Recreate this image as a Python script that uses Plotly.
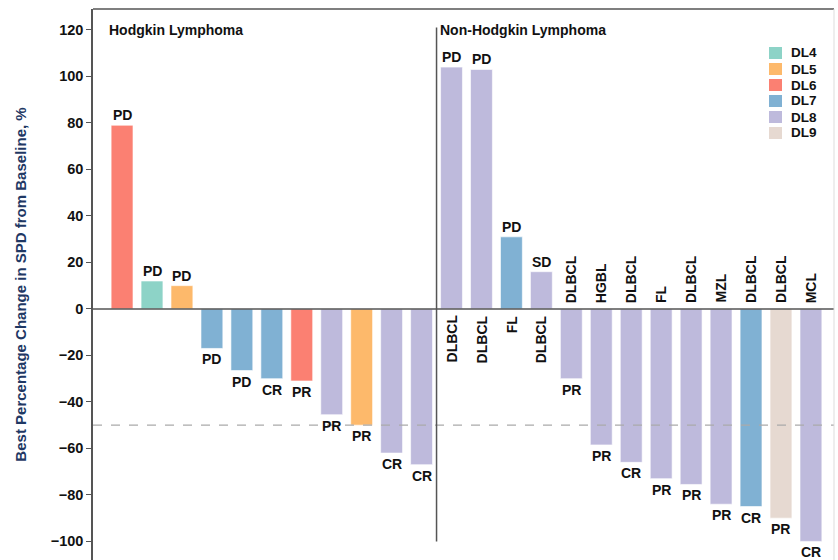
import plotly.graph_objects as go

# ---- data ----
dose_levels = ["DL4", "DL5", "DL6", "DL7", "DL8", "DL9"]
dl_colors = ["#8dd3c7", "#fdb96b", "#fb8072", "#80b1d3", "#bebadc", "#e6d9d1"]

patient_dl = ["DL6", "DL4", "DL5", "DL7", "DL7", "DL7", "DL6", "DL8", "DL5", "DL8", "DL8",
              "DL8", "DL8", "DL7", "DL8", "DL8", "DL8", "DL8", "DL8", "DL8", "DL8", "DL7", "DL9", "DL8"]
pct_change = [79, 12, 10, -17, -26.5, -30, -31, -45.5, -50, -62, -67,
              104, 103, 31, 16, -30, -58.5, -66, -73, -75.5, -84, -85, -90, -100]
response = ["PD", "PD", "PD", "PD", "PD", "CR", "PR", "PR", "PR", "CR", "CR",
            "PD", "PD", "PD", "SD", "PR", "PR", "CR", "PR", "PR", "PR", "CR", "PR", "CR"]
histology = [""] * 11 + ["DLBCL", "DLBCL", "FL", "DLBCL", "DLBCL", "HGBL", "DLBCL", "FL",
                         "DLBCL", "MZL", "DLBCL", "DLBCL", "MCL"]
group_labels = ["Hodgkin Lymphoma", "Non-Hodgkin Lymphoma"]
n_hodgkin = 11
y_ticks = [-100, -80, -60, -40, -20, 0, 20, 40, 60, 80, 100, 120]

FONT = "Liberation Sans, Arial, sans-serif"
W, H = 838, 560
ML, MR, MT, MB = 93, 4, 9, 0
positions = list(range(len(pct_change)))

fig = go.Figure()
for dl, col in zip(dose_levels, dl_colors):
    xs = [p for p, d in zip(positions, patient_dl) if d == dl]
    ys = [v for v, d in zip(pct_change, patient_dl) if d == dl]
    fig.add_trace(go.Bar(x=xs, y=ys, name=dl, width=0.73, showlegend=False,
                         marker=dict(color=col, line=dict(color="rgba(255,255,255,0.6)", width=1))))

lab_font = dict(family=FONT, size=14, color="#111", weight="bold")
annotations = []
for p, v, r, h in zip(positions, pct_change, response, histology):
    annotations.append(dict(x=p, y=v, text=r, showarrow=False,
                            xref="x", yref="y",
                            yanchor="bottom" if v >= 0 else "top",
                            yshift=0 if v >= 0 else -1,
                            font=lab_font))
    if h:
        annotations.append(dict(x=p, y=0, text=h, showarrow=False, textangle=-90,
                                xref="x", yref="y",
                                yanchor="top" if v >= 0 else "bottom",
                                yshift=-4 if v >= 0 else 4,
                                font=lab_font))

grp_font = dict(family=FONT, size=14, color="#111", weight="bold")
annotations.append(dict(x=-0.5, y=120, text=group_labels[0], showarrow=False,
                        xanchor="left", yanchor="middle", xref="x", yref="y", font=grp_font))
annotations.append(dict(x=n_hodgkin - 0.45, y=120, text=group_labels[1], showarrow=False,
                        xanchor="left", yanchor="middle", xref="x", yref="y", font=grp_font))

shapes = [
    dict(type="line", xref="paper", yref="y", x0=0, x1=1, y0=0, y1=0,
         line=dict(color="#555", width=1.5)),
    dict(type="line", xref="paper", yref="y", x0=0, x1=1, y0=-50, y1=-50,
         line=dict(color="#aaa", width=1.3, dash="dash")),
    dict(type="line", xref="x", yref="y", x0=n_hodgkin - 0.5, x1=n_hodgkin - 0.5, y0=-100, y1=121,
         line=dict(color="#555", width=1.5)),
    dict(type="line", xref="paper", yref="paper", x0=0, x1=1, y0=1, y1=1,
         line=dict(color="#555", width=1.5)),
    dict(type="line", xref="paper", yref="paper", x0=1, x1=1, y0=0, y1=1,
         line=dict(color="#ddd", width=1)),
]

# manual legend (compact spacing like the reference)
pw = W - ML - MR
ph = H - MT - MB
def px_x(px):
    return (px - ML) / pw
def px_y(py):
    return (H - MB - py) / ph
for i, (dl, col) in enumerate(zip(dose_levels, dl_colors)):
    cy = 53 + 16 * i
    shapes.append(dict(type="rect", xref="paper", yref="paper",
                       x0=px_x(769), x1=px_x(782), y0=px_y(cy + 6), y1=px_y(cy - 6),
                       fillcolor=col, line=dict(width=0)))
    annotations.append(dict(x=px_x(789), y=px_y(cy), xref="paper", yref="paper", text=dl,
                            showarrow=False, xanchor="left", yanchor="middle",
                            font=dict(family=FONT, size=13.5, color="#111", weight="bold")))

fig.update_layout(
    width=W, height=H,
    margin=dict(l=ML, r=MR, t=MT, b=MB),
    paper_bgcolor="white", plot_bgcolor="white",
    barmode="overlay",
    showlegend=False,
    annotations=annotations,
    shapes=shapes,
    xaxis=dict(range=[-0.97, len(pct_change) - 0.23], showticklabels=False, showgrid=False,
               zeroline=False, showline=False, ticks=""),
    yaxis=dict(range=[-108, 129], tickvals=y_ticks, showgrid=False, zeroline=False,
               showline=True, linecolor="#555", linewidth=1.5,
               ticks="outside", ticklen=5, tickcolor="#555",
               tickfont=dict(family=FONT, size=14.5, color="#111", weight="bold"),
               title=dict(text="Best Percentage Change in SPD from Baseline, %",
                          font=dict(family=FONT, size=15, color="#1f3864", weight="bold"),
                          standoff=20)),
    font=dict(family=FONT),
)

fig.write_html("out.html")
